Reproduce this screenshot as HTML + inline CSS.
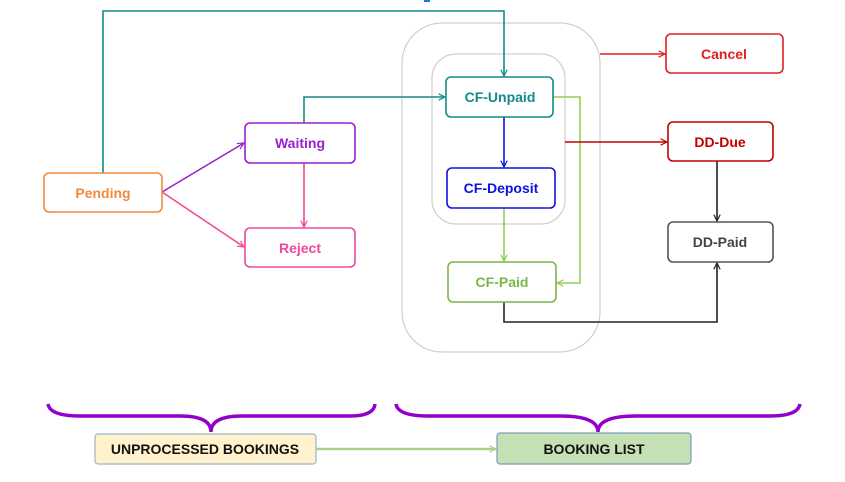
<!DOCTYPE html>
<html><head><meta charset="utf-8"><style>
body{margin:0;background:#fff;width:845px;height:477px;overflow:hidden}
text{font-family:"Liberation Sans",sans-serif;font-weight:bold;font-size:14px;text-anchor:middle;dominant-baseline:central}
</style></head><body>
<svg width="845" height="477" viewBox="0 0 845 477" xmlns="http://www.w3.org/2000/svg">
<defs>
<marker id="a" viewBox="0 0 10 10" refX="9" refY="5" markerWidth="8" markerHeight="8" orient="auto" markerUnits="userSpaceOnUse"><path d="M1,1 L9,5 L1,9" fill="none" stroke="context-stroke" stroke-width="1.5"/></marker>
</defs>
<rect x="424" y="0" width="6" height="2" fill="#1a73e8"/>
<rect x="402" y="23" width="198" height="329" rx="40" fill="none" stroke="#cfcfcf" stroke-width="1.2"/>
<rect x="432" y="54" width="133" height="170" rx="24" fill="none" stroke="#cfcfcf" stroke-width="1.2"/>
<g fill="none" stroke-width="1.6">
<polyline points="103,173 103,11 504,11 504,76" stroke="#138a8a" marker-end="url(#a)"/>
<polyline points="304,123 304,97 445,97" stroke="#138a8a" marker-end="url(#a)"/>
<line x1="162" y1="192" x2="244" y2="143" stroke="#9a1fcf" marker-end="url(#a)"/>
<line x1="162" y1="192" x2="244" y2="247" stroke="#f0489a" marker-end="url(#a)"/>
<line x1="304" y1="163" x2="304" y2="227" stroke="#f0489a" marker-end="url(#a)"/>
<line x1="504" y1="117" x2="504" y2="167" stroke="#1010e0" marker-end="url(#a)"/>
<line x1="504" y1="208" x2="504" y2="261" stroke="#92d050" marker-end="url(#a)"/>
<polyline points="553,97 580,97 580,283 557,283" stroke="#92d050" marker-end="url(#a)"/>
<line x1="600" y1="54" x2="665" y2="54" stroke="#e02020" marker-end="url(#a)"/>
<line x1="565" y1="142" x2="667" y2="142" stroke="#c00000" marker-end="url(#a)"/>
<line x1="717" y1="161" x2="717" y2="221" stroke="#222" marker-end="url(#a)"/>
<polyline points="504,302 504,322 717,322 717,263" stroke="#222" marker-end="url(#a)"/>
<line x1="316" y1="449" x2="496" y2="449" stroke="#a9d18e" stroke-width="2.5" marker-end="url(#a)"/>
</g>
<g fill="#fff" stroke-width="1.6">
<rect x="44" y="173" width="118" height="39" rx="5" stroke="#f08a3c"/>
<rect x="245" y="123" width="110" height="40" rx="5" stroke="#9a1fcf"/>
<rect x="245" y="228" width="110" height="39" rx="5" stroke="#f0489a"/>
<rect x="446" y="77" width="107" height="40" rx="5" stroke="#138a8a"/>
<rect x="447" y="168" width="108" height="40" rx="5" stroke="#1010e0"/>
<rect x="448" y="262" width="108" height="40" rx="5" stroke="#7ab648"/>
<rect x="666" y="34" width="117" height="39" rx="5" stroke="#e02020"/>
<rect x="668" y="122" width="105" height="39" rx="5" stroke="#c00000"/>
<rect x="668" y="222" width="105" height="40" rx="5" stroke="#555"/>
<rect x="95" y="434" width="221" height="30" rx="3" fill="#fff2cc" stroke="#9db3c8" stroke-width="1.2"/>
<rect x="497" y="433" width="194" height="31" rx="3" fill="#c5e0b4" stroke="#7a9cb8" stroke-width="1.2"/>
</g>
<g fill="none" stroke="#9400c8" stroke-width="3.5">
<path d="M48,404 Q50,416 80,416 L180,416 Q211,416 211,432 Q211,416 242,416 L350,416 Q374,416 375,404"/>
<path d="M396,404 Q398,416 428,416 L560,416 Q598,416 598,432 Q598,416 636,416 L770,416 Q798,416 800,404"/>
</g>
<text x="103" y="193" fill="#f08a3c">Pending</text>
<text x="300" y="143" fill="#9a1fcf">Waiting</text>
<text x="300" y="248" fill="#f0489a">Reject</text>
<text x="500" y="97" fill="#138a8a">CF-Unpaid</text>
<text x="501" y="188" fill="#1010e0">CF-Deposit</text>
<text x="502" y="282" fill="#7ab648">CF-Paid</text>
<text x="724" y="54" fill="#e02020">Cancel</text>
<text x="720" y="142" fill="#c00000">DD-Due</text>
<text x="720" y="242" fill="#444">DD-Paid</text>
<text x="205" y="449" fill="#111" font-size="13">UNPROCESSED BOOKINGS</text>
<text x="594" y="449" fill="#111" font-size="13">BOOKING LIST</text>
</svg>
</body></html>
